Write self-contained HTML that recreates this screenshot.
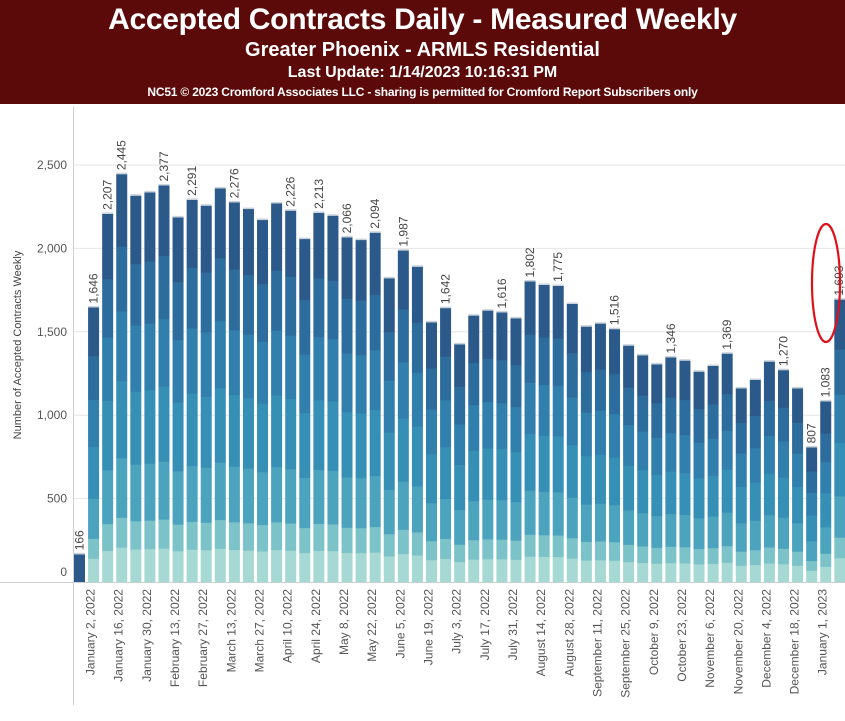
<!DOCTYPE html>
<html><head><meta charset="utf-8">
<style>
body{margin:0;width:845px;height:721px;overflow:hidden;background:#fff;font-family:"Liberation Sans",sans-serif}
#hdr{position:absolute;left:0;top:0;width:845px;height:104px;background:#5b0909;color:#fff;text-align:center}
#hdr div{position:absolute;left:0;width:845px;font-weight:bold;white-space:nowrap}
</style></head>
<body>
<div id="hdr">
  <div style="top:3px;font-size:30px;letter-spacing:-0.3px">Accepted Contracts Daily - Measured Weekly</div>
  <div style="top:39px;font-size:20px">Greater Phoenix - ARMLS Residential</div>
  <div style="top:64px;font-size:16px">Last Update: 1/14/2023 10:16:31 PM</div>
  <div style="top:85px;font-size:12px;letter-spacing:-0.2px">NC51 © 2023 Cromford Associates LLC - sharing is permitted for Cromford Report Subscribers only</div>
</div>
<svg id="chart" width="845" height="721" style="position:absolute;left:0;top:0"></svg>
<script>
const totals=[166,1646,2207,2445,2316,2336,2377,2186,2291,2256,2360,2276,2236,2170,2270,2226,2056,2213,2196,2066,2050,2094,1821,1987,1890,1557,1642,1425,1597,1627,1616,1581,1802,1781,1775,1667,1531,1549,1516,1417,1359,1305,1346,1327,1261,1295,1369,1161,1211,1321,1270,1161,807,1083,1693];
const labeled=[0,1,2,3,6,8,11,15,17,19,21,23,26,30,32,34,38,42,46,50,52,53,54];
const dayShare=[0.177,0.159,0.171,0.189,0.146,0.073,0.085];
const dateLabels=["January 2, 2022","January 16, 2022","January 30, 2022","February 13, 2022","February 27, 2022","March 13, 2022","March 27, 2022","April 10, 2022","April 24, 2022","May 8, 2022","May 22, 2022","June 5, 2022","June 19, 2022","July 3, 2022","July 17, 2022","July 31, 2022","August 14, 2022","August 28, 2022","September 11, 2022","September 25, 2022","October 9, 2022","October 23, 2022","November 6, 2022","November 20, 2022","December 4, 2022","December 18, 2022","January 1, 2023"];
const yTicks=[0,500,1000,1500,2000,2500];
const colors=["#2b5a8a","#2d6d9d","#307fad","#3690b6","#4ba3bd","#7cc2c9","#a6d9d3"];
const svg=document.getElementById('chart');
const NS='http://www.w3.org/2000/svg';
const y0=582,k=0.1668,x0=79.5,step=14.08,bw=11;
const yS=v=>y0-v*k, xS=i=>x0+i*step;
function mk(t,a){const e=document.createElementNS(NS,t);for(const n in a)e.setAttribute(n,a[n]);svg.appendChild(e);return e;}
yTicks.forEach(v=>{
  if(v>0){const g=mk('line',{x1:74,x2:845,y1:yS(v),y2:yS(v),stroke:'#e6e6e6','stroke-width':1});
  
  }
  const t=mk('text',{x:67,y:v===0?576:yS(v)+4,'text-anchor':'end','font-size':12,fill:'#555'});
  t.textContent=v.toLocaleString('en-US');
  
  
});
let ax=mk('line',{x1:73.5,x2:73.5,y1:107,y2:705,stroke:'#d0d0d0'});


let bl=mk('line',{x1:0,x2:845,y1:582.5,y2:582.5,stroke:'#d0d0d0'});


totals.forEach((v,i)=>{
  const x=xS(i)-bw/2;
  if(i===0){
    const r=mk('rect',{x:x,y:yS(v),width:bw,height:v*k,fill:colors[0]});
    
    
  } else {
    let acc=0;
    for(let d=6;d>=0;d--){
      const sv=v*dayShare[d];
      const r=mk('rect',{x:x,y:yS(acc+sv),width:bw,height:sv*k+0.3,fill:colors[d]});
      
      
      acc+=sv;
    }
  }
  const cap=mk('rect',{x:x,y:yS(v)-1.5,width:bw,height:1.5,fill:'#c9d3dc'});
  
  
  if(labeled.includes(i)){
    const tx=Math.min(xS(i)+4,843),ty=yS(v)-4;
    const t=mk('text',{x:tx,y:ty,transform:`rotate(-90 ${tx} ${ty})`,'font-size':12,fill:'#444'});
    t.textContent=v.toLocaleString('en-US');
    
    
  }
});
dateLabels.forEach((s,j)=>{
  const tx=xS(1+2*j)+1,ty=589;
  const t=mk('text',{x:tx,y:ty,transform:`rotate(-90 ${tx} ${ty})`,'text-anchor':'end','font-size':12,fill:'#555'});
  t.textContent=s;
  
  
});
const yt=mk('text',{x:21,y:345,transform:'rotate(-90 21 345)','text-anchor':'middle','font-size':11,fill:'#444'});
yt.textContent='Number of Accepted Contracts Weekly';


const el=mk('ellipse',{cx:826,cy:283,rx:14,ry:59,fill:'none',stroke:'#e0101a','stroke-width':2.2});


</script>
</body></html>
